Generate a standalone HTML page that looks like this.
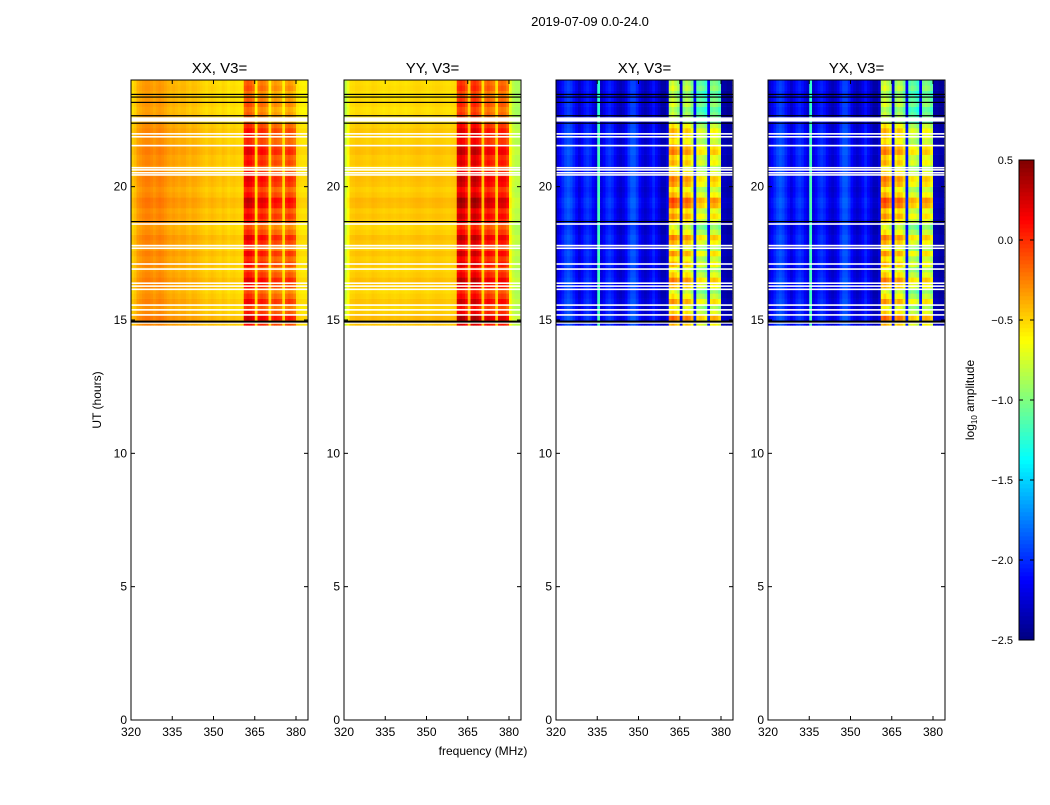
<!DOCTYPE html>
<html><head><meta charset="utf-8"><style>
body{margin:0;background:#fff;font-family:"Liberation Sans","DejaVu Sans",sans-serif}
svg text{font-family:"Liberation Sans","DejaVu Sans",sans-serif}
</style></head><body>
<svg id="chart" width="1050" height="800" xmlns="http://www.w3.org/2000/svg">
<rect width="1050" height="800" fill="#fff"/>
<text x="590" y="26" font-size="13" text-anchor="middle">2019-07-09 0.0-24.0</text>
<text x="483" y="755" font-size="12" text-anchor="middle">frequency (MHz)</text>
<text transform="translate(101,400) rotate(-90)" font-size="12" text-anchor="middle">UT (hours)</text>
<g id="panels"></g>
<g id="cbar"></g>
</svg>
<script>
// Data arrays
const panelTitles = ["XX, V3=","YY, V3=","XY, V3=","YX, V3="];
const freqStart = 320; // MHz, 1 MHz channels
const xTicks = [320,335,350,365,380];
const yTicks = [0,5,10,15,20];
const cbarTicks = [-2.5,-2.0,-1.5,-1.0,-0.5,0.0,0.5];
const baseXX = [-0.5,-0.45,
 -0.36,-0.33,-0.3,-0.28,-0.28,-0.3,-0.33,-0.3,-0.28,-0.3,-0.33,-0.36,
 -0.38,-0.36,-0.38,-0.4,-0.38,-0.38,-0.41,-0.43,-0.4,-0.41,-0.43,
 -0.45,-0.47,-0.49,-0.47,-0.45,-0.47,-0.49,-0.5,-0.47,-0.49,-0.52,-0.5,-0.49,-0.51,-0.52,-0.52,
 -0.02,0.03,0.0,-0.07,-0.55,-0.12,-0.07,-0.1,-0.17,-0.55,-0.22,-0.17,-0.2,-0.24,-0.55,-0.22,-0.17,-0.2,-0.27,
 -0.52,-0.55,-0.56,-0.56];
const baseYY = [-0.8,-0.65,
 -0.5,-0.49,-0.47,-0.47,-0.48,-0.49,-0.5,-0.49,-0.47,-0.48,-0.49,-0.5,
 -0.51,-0.5,-0.49,-0.5,-0.51,-0.5,-0.49,-0.5,-0.51,-0.5,-0.49,
 -0.48,-0.47,-0.47,-0.48,-0.49,-0.5,-0.49,-0.48,-0.47,-0.47,-0.48,-0.49,-0.5,-0.5,-0.49,-0.48,
 0.1,0.15,0.1,0.0,-0.45,0.1,0.15,0.1,0.0,-0.5,-0.05,0.0,-0.05,-0.1,-0.5,-0.05,-0.02,-0.05,-0.15,
 -0.65,-0.8,-0.85,-0.85];
const baseXY = [-2.25,-2.15,
 -2.05,-1.95,-1.9,-1.95,-2.05,-2.15,-2.25,-2.15,-2.05,-2.0,-2.05,-2.15,
 -2.25,-1.2,-2.25,-2.15,-2.05,-2.0,-2.05,-2.15,-2.25,-2.3,-2.25,
 -2.15,-2.0,-1.9,-1.9,-2.0,-2.15,-2.25,-2.3,-2.25,-2.15,-2.05,-2.15,-2.25,-2.35,-2.35,-2.25,
 -0.6,-0.5,-0.6,-0.7,-2.2,-0.7,-0.6,-0.65,-0.8,-2.1,-0.9,-0.85,-0.9,-1.0,-2.1,-0.8,-0.75,-0.8,-0.9,
 -2.35,-2.35,-2.4,-2.4];
const baseYX = [-2.25,-2.15,
 -2.05,-1.95,-1.9,-1.95,-2.05,-2.15,-2.25,-2.15,-2.05,-2.0,-2.05,-2.15,
 -2.25,-1.2,-2.25,-2.15,-2.05,-2.0,-2.05,-2.15,-2.25,-2.3,-2.25,
 -2.15,-2.0,-1.9,-1.9,-2.0,-2.15,-2.25,-2.3,-2.25,-2.15,-2.05,-2.15,-2.25,-2.35,-2.35,-2.25,
 -0.6,-0.5,-0.6,-0.7,-2.2,-0.7,-0.6,-0.65,-0.8,-2.1,-0.9,-0.85,-0.9,-1.0,-2.1,-0.8,-0.75,-0.8,-0.9,
 -2.35,-2.35,-2.4,-2.4];
const timeStart = 14.8, rowHours = 0.2;
const rowOffset = [0.1,0.25,0.05,-0.05,0.15,0.0,-0.1,0.1,0.2,0.05,
 -0.05,0.1,0.0,0.15,-0.05,0.1,0.2,0.0,-0.1,0.05,
 0.15,0.05,0.25,0.3,0.1,0.0,0.15,0.2,0.05,-0.05,
 0.1,0.05,0.2,0.15,0.0,0.05,0.1,0.0,-0.2,-0.15,
 -0.2,-0.1,-0.15,-0.2,-0.1,-0.15];
const flaggedHours = [14.89,15.19,15.38,15.56,16.15,16.27,16.38,16.91,17.10,17.69,17.79,18.6,20.44,20.52,20.63,20.71,21.54,21.87,21.98,22.47,22.52,22.57];
const blackHours = [14.94,18.69,22.38,22.66,23.16,23.36,23.46];
const gapFreqs = [365,370,375];

const NS="http://www.w3.org/2000/svg";
const panelsG=document.getElementById('panels');
const panelX=[131,344,556,768], pw=177, y0=720, pxPerHour=(720-80)/24;
const fx=(f,x0)=>x0+(f-freqStart)*2.75;
const hy=h=>y0-h*pxPerHour;
function jet(v){let x=Math.max(0,Math.min(1,(v+2.5)/3));const c=t=>Math.round(255*Math.max(0,Math.min(1,1.5-Math.abs(t))));return `rgb(${c(4*x-3)},${c(4*x-2)},${c(4*x-1)})`;}
function mk(tag,attrs,parent){const e=document.createElementNS(NS,tag);for(const k in attrs)e.setAttribute(k,attrs[k]);parent.appendChild(e);return e;}
const bases=[baseXX,baseYY,baseXY,baseYX];
const pnames=['xx','yy','xy','yx'];
bases.forEach((base,p)=>{
 const x0=panelX[p];
 const g=mk('g',{},panelsG);
 
 
 const hm=mk('g',{},g);
 
 
 rowOffset.forEach((off,r)=>{
  const h0=timeStart+r*rowHours, yt=hy(h0+rowHours), yb=hy(h0);
  base.forEach((b,i)=>{
   const f=freqStart+i;
   const inBand=f>=361&&f<=379&&gapFreqs.indexOf(f)<0;
   const gain=inBand?(p>=2?1.6:1):0.25;
   const xa=fx(f,x0), xb=Math.min(fx(f+1,x0),x0+pw);
   if(xb<=xa)return;
   const c=mk('rect',{x:xa.toFixed(2),y:yt.toFixed(2),width:(xb-xa+0.3).toFixed(2),height:(yb-yt+0.3).toFixed(2),fill:jet(b+off*gain)},hm);
   
   
  });
 });
 flaggedHours.forEach(h=>{const l=mk('rect',{x:x0,y:(hy(h)-0.8).toFixed(2),width:pw,height:1.6,fill:'#fff'},g);
  
  });
 blackHours.forEach((h,k)=>{const l=mk('rect',{x:x0,y:(hy(h)-(k==0?1:0.6)).toFixed(2),width:pw,height:k==0?2:1.2,fill:'#000'},g);
  
  });
 const fr=mk('rect',{x:x0,y:80,width:pw,height:640,fill:'none',stroke:'#000','stroke-width':1},g);
 
 
 const t=mk('text',{x:x0+pw/2,y:73,'font-size':15,'text-anchor':'middle'},g);t.textContent=panelTitles[p];
 
 
 xTicks.forEach(v=>{const x=fx(v,x0);
  mk('line',{x1:x,x2:x,y1:720,y2:716,stroke:'#000'},g);mk('line',{x1:x,x2:x,y1:80,y2:84,stroke:'#000'},g);
  const tl=mk('text',{x:x,y:736,'font-size':12,'text-anchor':'middle'},g);tl.textContent=v;
  
  });
 yTicks.forEach(v=>{const y=hy(v);
  mk('line',{x1:x0,x2:x0+4,y1:y,y2:y,stroke:'#000'},g);mk('line',{x1:x0+pw,x2:x0+pw-4,y1:y,y2:y,stroke:'#000'},g);
  const tl=mk('text',{x:x0-4,y:y+4,'font-size':12,'text-anchor':'end'},g);tl.textContent=v;
  
  });
});
// colorbar
const cb=document.getElementById('cbar');


const cbTop=160,cbBot=640,cbX=1019,cbW=15;
const cv=v=>cbBot-(v+2.5)/3*(cbBot-cbTop);
for(let k=0;k<120;k++){const v=-2.5+3*(k+0.5)/120;mk('rect',{x:cbX,y:(cv(-2.5+3*(k+1)/120)).toFixed(2),width:cbW,height:4.3,fill:jet(v)},cb);}
mk('rect',{x:cbX,y:cbTop,width:cbW,height:cbBot-cbTop,fill:'none',stroke:'#000'},cb);
cbarTicks.forEach(v=>{const y=cv(v);
 mk('line',{x1:cbX,x2:cbX+4,y1:y,y2:y,stroke:'#000'},cb);mk('line',{x1:cbX+cbW,x2:cbX+cbW-4,y1:y,y2:y,stroke:'#000'},cb);
 const tl=mk('text',{x:1013,y:y+4,'font-size':11,'text-anchor':'end'},cb);tl.textContent=(v<0?'\u2212':'')+Math.abs(v).toFixed(1);
 
 });
const cl=mk('text',{transform:'translate(974,400) rotate(-90)','font-size':12,'text-anchor':'middle'},cb);
cl.innerHTML='log<tspan font-size="8" dy="3">10</tspan><tspan dy="-3"> amplitude</tspan>';


</script>
</body></html>
